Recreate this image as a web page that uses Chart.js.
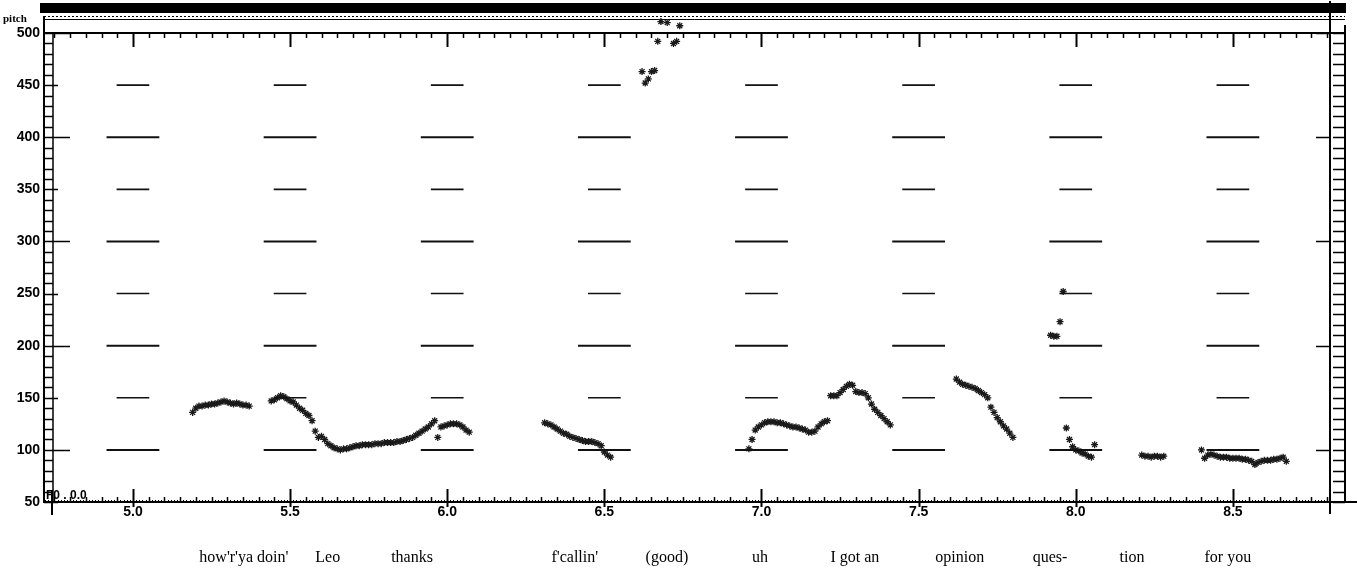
<!DOCTYPE html>
<html>
<head>
<meta charset="utf-8">
<script src="https://cdn.jsdelivr.net/npm/chart.js@4/dist/chart.umd.min.js"></script>
<style>
  html, body { margin: 0; padding: 0; background: #fff; }
  #wrap { width: 1357px; height: 572px; position: relative; }
</style>
</head>
<body>
<div id="wrap"><canvas id="pitchChart" width="1357" height="572"></canvas></div>
<script>
// axis ranges (time in s, F0 in Hz)
const timeRange = [4.717, 8.809];
const f0Range = [50, 500];
// the plot runs a little past 500 Hz so the clipped "(good)" frames still show
const f0ScaleMax = 515;
const timeTicks = [5.0, 5.5, 6.0, 6.5, 7.0, 7.5, 8.0, 8.5];
const f0Ticks = [50, 100, 150, 200, 250, 300, 350, 400, 450, 500];

// reference bars printed at every labelled time
const refLongLevels = [100, 200, 300, 400];
const refShortLevels = [150, 250, 350, 450];

// transcript under the time axis
const words = ["how'r'ya doin'", "Leo", "thanks", "f'callin'", "(good)", "uh", "I got an", "opinion", "ques-", "tion", "for you"];
const wordTimes = [5.353, 5.62, 5.888, 6.406, 6.699, 6.995, 7.297, 7.631, 7.918, 8.179, 8.484];

// pitch track: 10 ms frames, one list per voiced stretch
const frameStep = 0.01;
const segmentStarts = [5.19, 5.44, 6.31, 6.62, 6.96, 7.62, 7.92, 8.21, 8.40];
const f0HowRYa = [136, 140, 142, 142, 143, 143, 144, 144, 145, 146, 147, 146, 145, 144, 145, 144, 143, 143, 142];
const f0LeoThanks = [147, 148, 150, 152, 151, 149, 147, 146, 143, 140, 138, 135, 133, 128, 118, 112, 113, 110, 106, 104,
  102, 101, 100, 101, 101, 102, 103, 104, 104, 105, 105, 105, 105, 106, 106, 106, 107, 107, 107, 107,
  108, 108, 109, 110, 111, 112, 114, 116, 118, 120, 122, 125, 128, 112, 122, 123, 124, 125, 125, 125,
  124, 122, 119, 117];
const f0Callin = [126, 125, 124, 122, 120, 118, 116, 115, 113, 112, 111, 110, 109, 108, 108, 108, 107, 106, 104, 98, 95, 93];
const f0Good = [463, 452, 456, 463, 464, 492, 511, null, 510, null, 490, 492, 507];
const f0UhIGot = [101, 110, 119, 122, 124, 126, 127, 127, 127, 126, 126, 125, 124, 123, 122, 122, 121, 120, 119, 117,
  117, 118, 122, 125, 127, 128, 152, 152, 152, 155, 158, 161, 163, 162, 156, 155, 155, 154, 150, 144,
  139, 136, 133, 130, 127, 124];
const f0Opinion = [168, 165, 163, 162, 161, 160, 159, 157, 155, 153, 150, 141, 136, 131, 127, 123, 120, 116, 112];
const f0Question = [210, 209, 209, 223, 252, 121, 110, 103, 100, 99, 97, 96, 94, 93, 105];
const f0Tion = [95, 94, 94, 93, 94, 94, 93, 94];
const f0ForYou = [100, 92, 95, 96, 95, 94, 93, 93, 93, 92, 92, 92, 92, 91, 91, 90, 89, 86, 88, 89, 90, 90, 90, 91, 91, 92, 93, 89];

const segments = [f0HowRYa, f0LeoThanks, f0Callin, f0Good, f0UhIGot, f0Opinion, f0Question, f0Tion, f0ForYou];

const pitchPoints = [];
segments.forEach((seg, s) => {
    seg.forEach((hz, i) => {
        if (hz === null) return;
        pitchPoints.push({ x: segmentStarts[s] + i * frameStep, y: hz });
    });
});

// each bar is two points, a null point breaks the line between bars
const refBars = (levels, halfWidth) => {
    const pts = [];
    timeTicks.forEach(t => {
        levels.forEach(level => {
            pts.push({ x: t - halfWidth, y: level });
            pts.push({ x: t + halfWidth, y: level });
            pts.push({ x: t, y: null });
        });
    });
    return pts;
};

const line = (ctx, x1, y1, x2, y2) => {
    ctx.beginPath();
    ctx.moveTo(x1, y1);
    ctx.lineTo(x2, y2);
    ctx.stroke();
};

// scanned-paper frame: ladder axes, tick rows, header band
const paperFrame = {
    id: 'paperFrame',
    beforeDatasetsDraw(chart) {
        const { ctx, chartArea: a, scales } = chart;
        const xs = scales.x, ys = scales.y;
        const top = Math.round(ys.getPixelForValue(f0Range[1]));
        ctx.save();
        ctx.strokeStyle = '#000';
        ctx.fillStyle = '#000';

        // header band
        ctx.fillRect(a.left - 4, 3, a.right + 20 - a.left, 10);
        ctx.lineWidth = 1;
        ctx.setLineDash([2, 2]);
        line(ctx, a.left, 16.5, a.right + 15, 16.5);
        ctx.setLineDash([]);
        line(ctx, a.left, 19.5, a.right + 15, 19.5);
        ctx.lineWidth = 2;
        line(ctx, a.left, top, a.right + 15, top);

        // time ticks, top and bottom
        const k0 = Math.ceil(timeRange[0] / 0.01), k1 = Math.floor(timeRange[1] / 0.01);
        for (let k = k0; k <= k1; k++) {
            const px = Math.round(xs.getPixelForValue(k * 0.01)) + 0.5;
            if (k % 50 === 0) {
                ctx.lineWidth = 2;
                line(ctx, px, top, px, top + 14);
                line(ctx, px, a.bottom - 13, px, a.bottom + 5);
            } else if (k % 5 === 0) {
                ctx.lineWidth = 1.5;
                line(ctx, px, top, px, top + 5);
                line(ctx, px, a.bottom, px, a.bottom - 5);
            } else {
                ctx.lineWidth = 1;
                line(ctx, px, a.bottom, px, a.bottom - 2);
            }
        }
        ctx.lineWidth = 2;
        line(ctx, a.right, a.bottom, a.right + 27, a.bottom);
        line(ctx, a.left + 8, a.bottom - 12, a.left + 8, a.bottom + 13);

        // left and right ladders
        ctx.lineWidth = 1.5;
        line(ctx, a.left + 9, top, a.left + 9, a.bottom);
        ctx.lineWidth = 2;
        line(ctx, a.right + 15, top - 8, a.right + 15, a.bottom);
        line(ctx, a.right, 1, a.right, a.top);
        line(ctx, a.right, a.bottom, a.right, a.bottom + 12);
        for (let v = f0Range[0]; v <= f0Range[1]; v += 10) {
            const py = Math.round(ys.getPixelForValue(v)) + 0.5;
            ctx.lineWidth = 1.5;
            let len = 9;
            if (v % 100 === 0) len = 26;
            else if (v % 50 === 0) len = 14;
            line(ctx, a.left, py, a.left + len, py);
            line(ctx, a.right + 3, py, a.right + 15, py);
            if (v % 100 === 0) line(ctx, a.right - 14, py, a.right, py);
        }

        // stray labels on the scan
        ctx.font = 'bold 11px "Liberation Serif"';
        ctx.fillText('pitch', 3, 22);
        ctx.font = 'bold 12px "Liberation Sans"';
        ctx.fillText('F0 . 0.0', a.left + 2, a.bottom - 3);
        ctx.restore();
    }
};

const tickFont = { family: 'Liberation Sans', size: 14, weight: 'bold' };

new Chart(document.getElementById('pitchChart'), {
    data: {
        datasets: [
            {
                type: 'line',
                data: refBars(refLongLevels, 0.084),
                borderColor: '#111',
                borderWidth: 2,
                pointRadius: 0,
                spanGaps: false,
                xAxisID: 'x',
                yAxisID: 'y'
            },
            {
                type: 'line',
                data: refBars(refShortLevels, 0.052),
                borderColor: '#111',
                borderWidth: 1.6,
                pointRadius: 0,
                spanGaps: false,
                xAxisID: 'x',
                yAxisID: 'y'
            },
            {
                type: 'scatter',
                data: pitchPoints,
                pointStyle: 'star',
                pointRadius: 3.5,
                borderWidth: 1.3,
                borderColor: '#1a1a1a',
                backgroundColor: '#1a1a1a',
                clip: false,
                xAxisID: 'x',
                yAxisID: 'y'
            }
        ]
    },
    options: {
        responsive: false,
        animation: false,
        devicePixelRatio: 1,
        layout: { padding: { top: 17.4, left: 0, right: 0, bottom: 0 } },
        plugins: {
            legend: { display: false },
            tooltip: { enabled: false }
        },
        scales: {
            x: {
                type: 'linear',
                position: 'bottom',
                min: timeRange[0],
                max: timeRange[1],
                afterBuildTicks: s => { s.ticks = timeTicks.map(v => ({ value: v })); },
                ticks: { callback: v => v.toFixed(1), font: tickFont, color: '#000', padding: 2, maxRotation: 0, autoSkip: false },
                grid: { drawOnChartArea: false, drawTicks: false },
                border: { color: '#000', width: 2 },
                afterFit: s => { s.height = 30; }
            },
            words: {
                type: 'linear',
                position: 'bottom',
                min: timeRange[0],
                max: timeRange[1],
                afterBuildTicks: s => { s.ticks = wordTimes.map(v => ({ value: v })); },
                ticks: {
                    callback: (v, i) => words[i],
                    font: { family: 'Liberation Serif', size: 16 },
                    color: '#000',
                    padding: 8,
                    maxRotation: 0,
                    autoSkip: false
                },
                grid: { display: false },
                border: { display: false },
                afterFit: s => { s.height = 40; }
            },
            y: {
                type: 'linear',
                position: 'left',
                min: f0Range[0],
                max: f0ScaleMax,
                afterBuildTicks: s => { s.ticks = f0Ticks.map(v => ({ value: v })); },
                ticks: { font: tickFont, color: '#000', padding: 4 },
                grid: { drawOnChartArea: false, drawTicks: false },
                border: { color: '#000', width: 2 },
                afterFit: s => { s.width = 44; }
            },
            y2: {
                type: 'linear',
                position: 'right',
                min: f0Range[0],
                max: f0ScaleMax,
                ticks: { display: false },
                grid: { drawOnChartArea: false, drawTicks: false },
                border: { color: '#000', width: 2 },
                afterFit: s => { s.width = 27; }
            }
        }
    },
    plugins: [paperFrame]
});
</script>
</body>
</html>
